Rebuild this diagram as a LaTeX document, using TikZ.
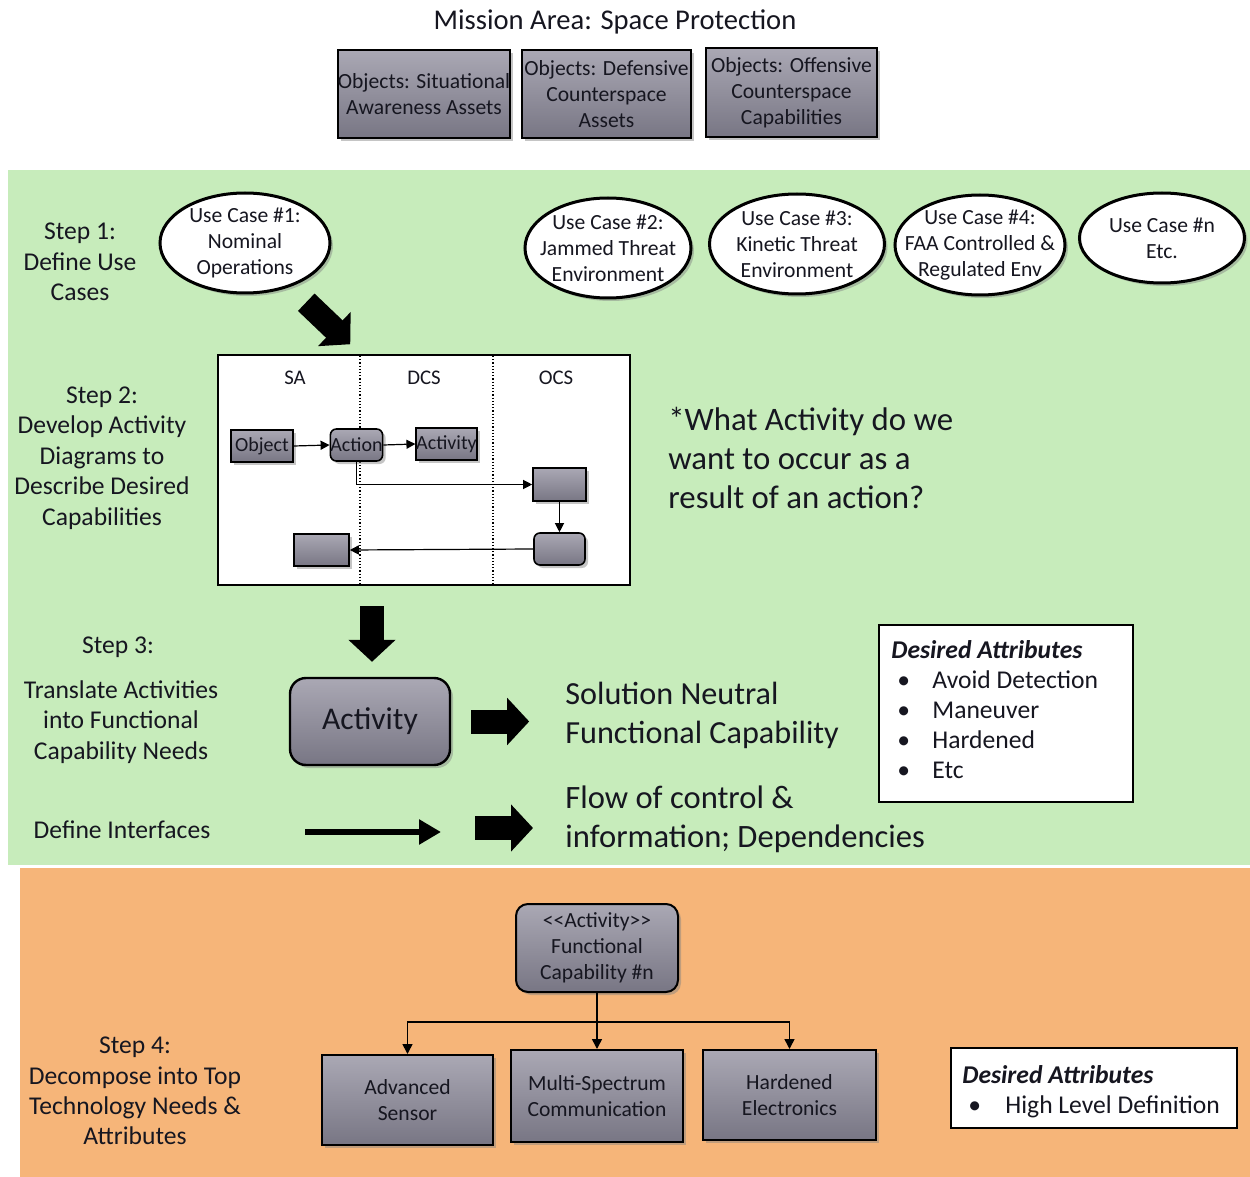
\documentclass[tikz,border=0pt]{standalone}
\usepackage{fontspec}
\setmainfont{Carlito}
\usetikzlibrary{shapes.geometric,arrows.meta,calc,shadows}

\definecolor{panelgreen}{RGB}{199,236,187}
\definecolor{panelorange}{RGB}{246,181,121}
\definecolor{boxtop}{RGB}{170,168,180}
\definecolor{boxbot}{RGB}{120,118,132}
\definecolor{ink}{RGB}{22,22,32}

\tikzset{
  softshadow/.style={drop shadow={opacity=0.45,shadow xshift=1.5pt,shadow yshift=-1.5pt}},
  graybox/.style={draw=black, line width=1pt, top color=boxtop, bottom color=boxbot,
    softshadow, align=center, inner sep=0pt, text=ink,
    font=\fontsize{10.8}{13}\selectfont},
  % the ellipse keeps its given size; the text may touch its border
  usecase/.style={ellipse, draw=black, line width=1.5pt, fill=white, softshadow,
    align=center, inner sep=-30pt, text=ink, font=\fontsize{10.8}{13}\selectfont},
  mini/.style={graybox, line width=0.8pt, font=\fontsize{10}{10}\selectfont},
  steptext/.style={align=center, text=ink, font=\fontsize{12.8}{15.2}\selectfont},
  bigtext/.style={align=left, anchor=west, inner sep=0pt, text=ink},
  attrbox/.style={draw=black, line width=1pt, fill=white},
  blockarrow/.style={line width=12pt, -{Triangle[length=11pt,width=23pt]}},
  linkarrow/.style={line width=3pt, -{Triangle[length=11pt,width=12pt]}},
  flow/.style={line width=0.6pt, -{Triangle[length=4.5pt,width=4.5pt]}},
  tree/.style={line width=0.8pt, -{Triangle[length=5pt,width=5pt]}},
  lanelabel/.style={text=ink, font=\fontsize{10.4}{11}\selectfont},
}

\begin{document}
\begin{tikzpicture}[x=0.5pt,y=-0.5pt]
\useasboundingbox (0,0) rectangle (1250,1177);
\fill[white] (0,0) rectangle (1250,1177);

% background panels
\fill[panelgreen] (8,170) rectangle (1250,865);
\fill[panelorange] (20,868) rectangle (1250,1177);

% mission area and its object groups
\node[text=ink, font=\fontsize{14.3}{16}\selectfont] (title) at (615,22) {Mission Area: Space Protection};
\node[graybox, minimum width=84pt, minimum height=44pt] (obj1) at (424,94) {Objects: Situational\\Awareness Assets};
\node[graybox, minimum width=84.5pt, minimum height=44pt] (obj2) at (606.5,94) {Objects: Defensive\\Counterspace\\Assets};
\node[graybox, minimum width=85.5pt, minimum height=44.5pt] (obj3) at (791.5,92.5) {Objects: Offensive\\Counterspace\\Capabilities};

% step 1: use cases
\node[steptext] (step1) at (80,262) {Step 1:\\Define Use\\Cases};
\node[usecase, minimum width=85pt, minimum height=50pt] (uc1) at (245,243) {Use Case \#1:\\Nominal\\Operations};
\node[usecase, minimum width=83pt, minimum height=50pt] (uc2) at (608,248) {Use Case \#2:\\Jammed Threat\\Environment};
\node[usecase, minimum width=87.5pt, minimum height=50pt] (uc3) at (797,244) {Use Case \#3:\\Kinetic Threat\\Environment};
\node[usecase, minimum width=85pt, minimum height=50pt] (uc4) at (980,245) {Use Case \#4:\\FAA Controlled \&\\Regulated Env};
\node[usecase, minimum width=82.5pt, minimum height=45pt] (ucn) at (1162,238) {Use Case \#n\\Etc.};

% step 2: activity diagram with swimlanes
\node[steptext] (step2) at (102,458) {Step 2:\\Develop Activity\\Diagrams to\\Describe Desired\\Capabilities};
\node[draw=black, line width=1pt, fill=white, minimum width=206pt, minimum height=115pt, inner sep=0pt] (lanes) at (424,470) {};
\draw[densely dotted, line width=0.6pt] (360,356) -- (360,584);
\draw[densely dotted, line width=0.6pt] (493,356) -- (493,584);
\node[lanelabel] (laneSA) at (295,378) {SA};
\node[lanelabel] (laneDCS) at (424,378) {DCS};
\node[lanelabel] (laneOCS) at (556,378) {OCS};

\node[mini, minimum width=31pt, minimum height=16pt] (object) at (262,446) {Object};
\node[mini, rounded corners=3pt, minimum width=25.5pt, minimum height=16pt] (action) at (356.5,445) {Action};
\node[mini, minimum width=27.5pt, minimum height=16pt] (actsmall) at (446.5,444) {Activity};
\node[mini, minimum width=26.5pt, minimum height=16.5pt] (boxA) at (559.5,484.5) {};
\node[mini, rounded corners=3pt, minimum width=25.5pt, minimum height=16pt] (boxB) at (559.5,549) {};
\node[mini, minimum width=27.5pt, minimum height=16pt] (boxC) at (321.5,550) {};

\draw[flow] (object.east) -- (action.west);
\draw[flow] (action.east) -- (actsmall.west);
\draw[flow] (action.south) |- (boxA.west);
\draw[flow] (boxA.south) -- (boxB.north);
\draw[flow] (boxB.west) -- (boxC.east);

\node[bigtext, font=\fontsize{16.4}{19.5}\selectfont] (question) at (668,458) {*What Activity do we\\want to occur as a\\result of an action?};

\draw[blockarrow] ($(uc1.-45)+(17,15)$) -- ($(uc1.-45)+(61,57)$);

% step 3: functional capability
\node[steptext] (step3) at (118,647) {Step 3:};
\node[steptext] (step3b) at (121,722) {Translate Activities\\into Functional\\Capability Needs};
\node[graybox, rounded corners=8pt, line width=1.2pt, minimum width=80pt, minimum height=43.5pt,
      font=\fontsize{15.8}{17}\selectfont] (act) at (370,721.5) {Activity};
\draw[blockarrow] ($(lanes.south -| act.north)+(2,20)$) -- ($(act.north)+(2,-15)$);

\node[bigtext, font=\fontsize{16.1}{19.5}\selectfont] (neutral) at (565,715.5) {Solution Neutral\\Functional Capability};
\draw[blockarrow] ($(act.east)+(20,0)$) -- ($(act.east)+(78,0)$);

\node[attrbox, minimum width=127pt, minimum height=88.5pt, inner sep=0pt] (attr1) at (1006,713.5) {};
\node[anchor=north west, inner sep=0pt, text=ink, font=\fontsize{12.8}{15}\selectfont] (attr1txt) at (891,637)
  {\begin{tabular}{@{}p{20.5pt}@{}l@{}}
   \multicolumn{2}{@{}l@{}}{\bfseries\itshape Desired Attributes}\\
   \hspace{3pt}\textbullet & Avoid Detection\\
   \hspace{3pt}\textbullet & Maneuver\\
   \hspace{3pt}\textbullet & Hardened\\
   \hspace{3pt}\textbullet & Etc
   \end{tabular}};

% interfaces
\node[steptext] (ifc) at (122,830) {Define Interfaces};
\coordinate (ifcA) at (305,832);
\coordinate (ifcB) at (441,832);
\draw[linkarrow] (ifcA) -- (ifcB);
\node[bigtext, font=\fontsize{16.3}{19.5}\selectfont] (flowtxt) at (565,819) {Flow of control \&\\information; Dependencies};
\draw[blockarrow] ($(flowtxt.west)+(-90,9)$) -- ($(flowtxt.west)+(-32,9)$);

% step 4: decomposition into technology needs
\node[steptext] (step4) at (135,1091) {Step 4:\\Decompose into Top\\Technology Needs \&\\Attributes};
\node[graybox, rounded corners=6pt, minimum width=81pt, minimum height=44pt] (fc) at (597,948) {<\kern0pt<Activity>\kern0pt>\\Functional\\Capability \#n};
\node[graybox, minimum width=85.5pt, minimum height=45pt] (tech1) at (407.5,1100) {Advanced\\Sensor};
\node[graybox, minimum width=86pt, minimum height=46pt] (tech2) at (597,1096) {Multi-Spectrum\\Communication};
\node[graybox, minimum width=86.5pt, minimum height=45pt] (tech3) at (789.5,1095) {Hardened\\Electronics};
\coordinate (split) at (597,1022);
\draw[line width=0.8pt] (fc.south) -- (split);
\draw[tree] (split) -| (tech1.north);
\draw[tree] (split) -- (tech2.north);
\draw[tree] (split) -| (tech3.north);

\node[attrbox, minimum width=143pt, minimum height=40pt, inner sep=0pt] (attr2) at (1094,1088) {};
\node[anchor=north west, inner sep=0pt, text=ink, font=\fontsize{12.8}{15}\selectfont] (attr2txt) at (962,1062)
  {\begin{tabular}{@{}p{21.5pt}@{}l@{}}
   \multicolumn{2}{@{}l@{}}{\bfseries\itshape Desired Attributes}\\
   \hspace{3pt}\textbullet & High Level Definition
   \end{tabular}};
\end{tikzpicture}
\end{document}
